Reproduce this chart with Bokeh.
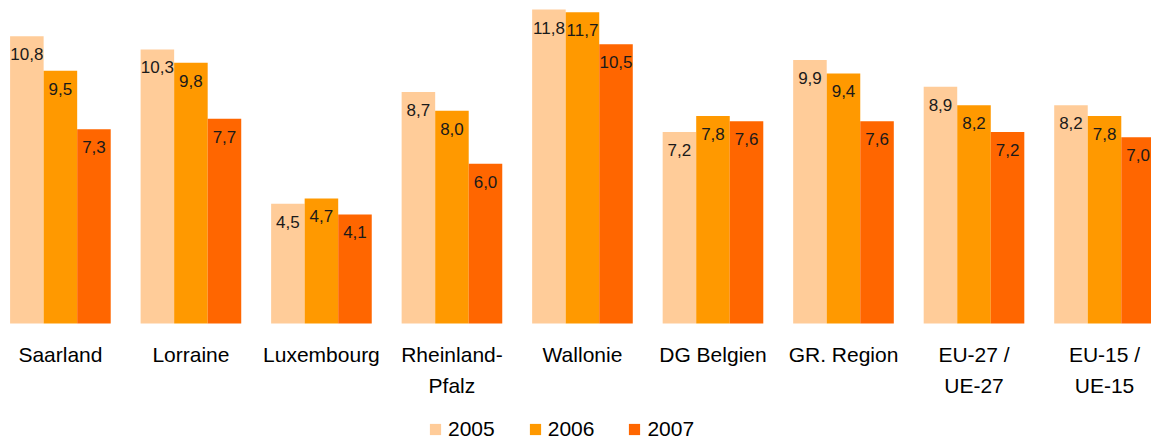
from bokeh.plotting import figure
from bokeh.models import ColumnDataSource, Range1d, Legend, LegendItem
from bokeh.core.properties import value
from bokeh.embed import file_html
from bokeh.resources import INLINE

categories = ["Saarland", "Lorraine", "Luxembourg", "Rheinland-\nPfalz", "Wallonie",
              "DG Belgien", "GR. Region", "EU-27 /\nUE-27", "EU-15 /\nUE-15"]
years = ["2005", "2006", "2007"]
v2005 = [10.8, 10.3, 4.5, 8.7, 11.8, 7.2, 9.9, 8.9, 8.2]
v2006 = [9.5, 9.8, 4.7, 8.0, 11.7, 7.8, 9.4, 8.2, 7.8]
v2007 = [7.3, 7.7, 4.1, 6.0, 10.5, 7.6, 7.6, 7.2, 7.0]

colors = ["#FFCC99", "#FF9900", "#FF6600"]
FONT = "Liberation Sans"
BAR_W = 0.257
offsets = [-BAR_W, 0.0, BAR_W]

p = figure(width=1151, height=441, output_backend="svg", toolbar_location=None,
           x_range=Range1d(-0.459, 8.36), y_range=Range1d(-4.436, 12.14),
           min_border=0, min_border_left=0, min_border_right=0,
           min_border_top=0, min_border_bottom=0)
p.axis.visible = False
p.xgrid.visible = False
p.ygrid.visible = False
p.outline_line_color = None
p.background_fill_color = "white"

renderers = []
for vals, off, col in zip([v2005, v2006, v2007], offsets, colors):
    src = ColumnDataSource(dict(
        x=[i + off for i in range(len(categories))],
        top=vals,
        lab=[f"{v:.1f}".replace(".", ",") for v in vals],
    ))
    r = p.vbar(x="x", top="top", bottom=0, width=BAR_W, source=src,
               fill_color=col, line_color=None)
    renderers.append(r)
    p.text(x="x", y="top", text="lab", source=src, text_align="center",
           text_baseline="top", y_offset=12, text_font=value(FONT),
           text_font_size="17px", text_color="#1a1a1a")

csrc = ColumnDataSource(dict(x=list(range(len(categories))),
                             y=[-0.72] * len(categories), t=categories))
p.text(x="x", y="y", text="t", source=csrc, text_align="center",
       text_baseline="top", text_font=value(FONT), text_font_size="21px",
       text_line_height=1.38, text_color="#000000")

legend = Legend(items=[LegendItem(label=y, renderers=[r]) for y, r in zip(years, renderers)],
                orientation="horizontal", location=(428, 0),
                glyph_width=14, glyph_height=14, label_height=24,
                label_standoff=6, spacing=33, padding=0, margin=0,
                border_line_color=None, background_fill_alpha=0,
                label_text_font=FONT, label_text_font_size="21px",
                label_text_color="#000000")
p.add_layout(legend)

open("out.html", "w").write(file_html(p, INLINE))
